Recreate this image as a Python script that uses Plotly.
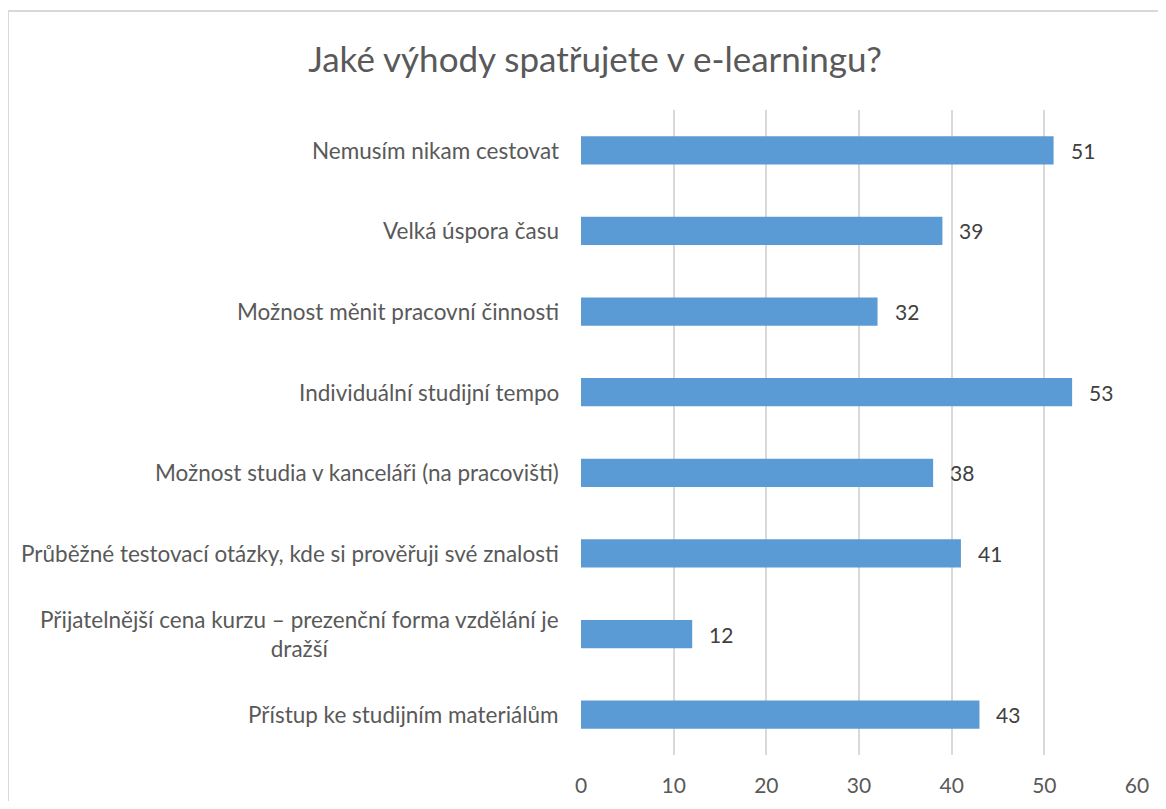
import plotly.graph_objects as go

categories = [
    "Nemusím nikam cestovat",
    "Velká úspora času",
    "Možnost měnit pracovní činnosti",
    "Individuální studijní tempo",
    "Možnost studia v kanceláři (na pracovišti)",
    "Průběžné testovací otázky, kde si prověřuji své znalosti",
    "Přijatelnější cena kurzu – prezenční forma vzdělání je<br>dražší",
    "Přístup ke studijním materiálům",
]
values = [51, 39, 32, 53, 38, 41, 12, 43]
tick_vals = [0, 10, 20, 30, 40, 50, 60]

FONT = "Lato, 'Open Sans', sans-serif"
BAR = "#5B9BD5"
TXT = "#595959"

fig = go.Figure()
fig.add_trace(go.Bar(
    x=values, y=categories, orientation="h",
    marker=dict(color=BAR, line=dict(width=0)),
    hoverinfo="x+y",
))

ann = []
for c, v in zip(categories, values):
    ann.append(dict(x=v, y=c, xref="x", yref="y", text=str(v), showarrow=False,
                    xanchor="left", xshift=15, font=dict(family=FONT, size=21, color="#404040")))
    ann.append(dict(x=-0.036, y=c, xref="paper", yref="y", text=c, showarrow=False,
                    xanchor="right", align="center", font=dict(family=FONT, size=22.5, color=TXT)))

W, H = 1150, 793
T, B, L, R = 102, 46, 573, 21
PH = H - T - B
PW = W - L - R
fig.update_layout(
    width=W, height=H,
    margin=dict(l=L, r=R, t=T, b=B),
    paper_bgcolor="white", plot_bgcolor="white",
    showlegend=False,
    bargap=0.65,
    title=dict(text="Jaké výhody spatřujete v e-learningu?", x=587/W, xanchor="center",
               y=1 - 52/H, yanchor="middle",
               font=dict(family=FONT, size=35, color=TXT)),
    xaxis=dict(range=[0, 60], tickvals=tick_vals, showgrid=True, gridcolor="#D9D9D9", gridwidth=1.5,
               zeroline=False, showline=False, ticks="", ticklabelstandoff=16, automargin=False,
               tickfont=dict(family=FONT, size=21, color=TXT), fixedrange=True),
    yaxis=dict(categoryorder="array", categoryarray=categories, autorange="reversed",
               showticklabels=False, showgrid=False, zeroline=False, showline=False, ticks="",
               automargin=False),
    annotations=ann,
    shapes=[dict(type="rect", xref="paper", yref="paper",
                 x0=(0 - L) / PW, x1=1.2, y0=-0.3, y1=1 + (T - 3) / PH,
                 line=dict(color="#D9D9D9", width=2), layer="below")],
)

fig.write_html("out.html")
